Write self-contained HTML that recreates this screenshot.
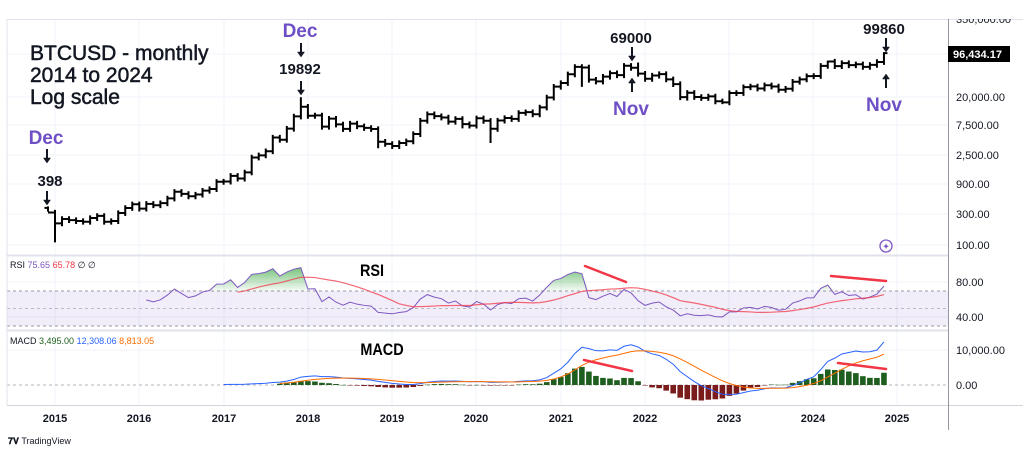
<!DOCTYPE html>
<html><head><meta charset="utf-8">
<style>
html,body{margin:0;padding:0;background:#fff;}
body{width:1023px;height:454px;overflow:hidden;position:relative;font-family:"Liberation Sans",sans-serif;}
svg{position:absolute;left:0;top:0;}
.ax{font-size:11px;fill:#131722;}
</style></head><body>
<svg id="s" width="1023" height="454" xmlns="http://www.w3.org/2000/svg">
<defs>
<clipPath id="cp"><rect x="7" y="19" width="941" height="236"/></clipPath>
<clipPath id="cr"><rect x="7" y="255" width="941" height="75"/></clipPath>
<clipPath id="cm"><rect x="7" y="330" width="941" height="75"/></clipPath>
<clipPath id="cax"><rect x="948" y="19" width="75" height="236"/></clipPath>
<linearGradient id="gg" x1="0" y1="0" x2="0" y2="1"><stop offset="0" stop-color="#4caf50" stop-opacity="0.75"/><stop offset="1" stop-color="#4caf50" stop-opacity="0.05"/></linearGradient>
</defs>
<g id="grid"></g>
<rect x="7" y="291" width="941" height="35" fill="#7e57c2" fill-opacity="0.1"/>
<line x1="7" x2="948" y1="291" y2="291" stroke="#9598a1" stroke-dasharray="3,3" stroke-width="1"/>
<line x1="7" x2="948" y1="308.5" y2="308.5" stroke="#9598a1" stroke-dasharray="3,3" stroke-width="1" opacity="0.6"/>
<line x1="7" x2="948" y1="326" y2="326" stroke="#9598a1" stroke-dasharray="3,3" stroke-width="1"/>
<line x1="7" x2="948" y1="385" y2="385" stroke="#9598a1" stroke-dasharray="3,3" stroke-width="1" opacity="0.7"/>
<g id="price" clip-path="url(#cp)"></g>
<g id="rsi" clip-path="url(#cr)"></g>
<g id="macd" clip-path="url(#cm)"></g>
<line x1="7" x2="1023" y1="19.5" y2="19.5" stroke="#e0e3eb"/>
<line x1="7" x2="948" y1="255.5" y2="255.5" stroke="#e0e3eb" stroke-width="2"/>
<line x1="7" x2="948" y1="330.5" y2="330.5" stroke="#e0e3eb" stroke-width="2"/>
<line x1="7" x2="1023" y1="405.5" y2="405.5" stroke="#d1d4dc"/>
<line x1="948.5" x2="948.5" y1="19" y2="430" stroke="#9598a1"/>
<line x1="7" x2="7" y1="19" y2="405" stroke="#e0e3eb"/>
<g class="ax">
<text x="956" y="23" clip-path="url(#cax)">350,000.00</text>
<text x="956" y="101">20,000.00</text>
<text x="956" y="129">7,500.00</text>
<text x="956" y="159">2,500.00</text>
<text x="956" y="188">900.00</text>
<text x="956" y="218">300.00</text>
<text x="956" y="249">100.00</text>
<text x="956" y="286">80.00</text>
<text x="956" y="321">40.00</text>
<text x="956" y="354">10,000.00</text>
<text x="956" y="389">0.00</text>
</g>
<rect x="948" y="46" width="62" height="16" fill="#000"/>
<text x="953" y="58" font-size="11" font-weight="bold" fill="#fff">96,434.17</text>
<g font-size="11" font-weight="bold" fill="#131722" text-anchor="middle">
<text x="55" y="422">2015</text><text x="139" y="422">2016</text><text x="224" y="422">2017</text><text x="308" y="422">2018</text><text x="392" y="422">2019</text><text x="476" y="422">2020</text><text x="561" y="422">2021</text><text x="645" y="422">2022</text><text x="729" y="422">2023</text><text x="813" y="422">2024</text><text x="897" y="422">2025</text>
</g>
<text x="10" y="268" font-size="9" fill="#131722">RSI <tspan fill="#7e57c2">75.65</tspan> <tspan fill="#f23645">65.78</tspan> ∅ ∅</text>
<text x="10" y="344" font-size="9" fill="#131722">MACD <tspan fill="#1e5e1e">3,495.00</tspan> <tspan fill="#2962ff">12,308.06</tspan> <tspan fill="#ff6d00">8,813.05</tspan></text>
<text x="372" y="276" font-size="17" font-weight="bold" text-anchor="middle" fill="#000" transform="translate(372,0) scale(0.85,1) translate(-372,0)">RSI</text>
<text x="382" y="355" font-size="17" font-weight="bold" text-anchor="middle" fill="#000" transform="translate(382,0) scale(0.85,1) translate(-382,0)">MACD</text>
<g stroke="#f23645" stroke-width="2.5" stroke-linecap="round">
<line x1="585" y1="266" x2="626" y2="282"/>
<line x1="831" y1="276" x2="886" y2="281"/>
<line x1="584" y1="360" x2="632" y2="371"/>
<line x1="838" y1="363" x2="886" y2="369"/>
</g>
<g>
<text x="30" y="60" font-size="21" fill="#131722" stroke="#131722" stroke-width="0.5">BTCUSD - monthly</text>
<text x="30" y="82" font-size="21" fill="#131722" stroke="#131722" stroke-width="0.5">2014 to 2024</text>
<text x="30" y="104" font-size="21" fill="#131722" stroke="#131722" stroke-width="0.5">Log scale</text>
<g fill="#6f4fc6" font-size="19" font-weight="bold" text-anchor="middle">
<text x="46" y="144">Dec</text><text x="300" y="37">Dec</text><text x="631" y="115">Nov</text><text x="884" y="111">Nov</text>
</g>
<g fill="#131722" font-size="15" font-weight="bold" text-anchor="middle">
<text x="50" y="186">398</text><text x="300" y="74">19892</text><text x="631" y="43">69000</text><text x="884" y="34">99860</text>
</g>
<g id="arrows" fill="#131722" stroke="#131722"></g>
</g>
<circle cx="886" cy="246" r="6" fill="none" stroke="#7e57c2" stroke-width="1.3"/>
<text x="886" y="249.5" font-size="9" fill="#7e57c2" text-anchor="middle">✦</text>
<text x="8" y="444" font-size="9" fill="#131722"><tspan font-weight="bold">𝟕𝐕</tspan> TradingView</text>
</svg>
<script>
var C=[320,217,254,244,236,230,263,284,230,236,314,377,430,
368,437,416,448,531,673,624,573,609,700,742,963,
970,1190,1080,1348,2300,2480,2875,4700,4340,6450,10000,14150,
10220,10380,6930,9240,7500,6390,7730,7030,6630,6370,4040,3740,
3460,3850,4100,5320,8570,10820,10080,9630,8290,9150,7570,7190,
9350,8540,6420,8620,9450,9140,11350,11650,10780,13800,19700,28990,
33100,45200,58800,57700,37300,35000,41500,47100,43800,61300,57000,46200,
38500,43200,45500,37700,31800,19900,23300,20050,19400,20500,17200,16550,
23100,23150,28500,29250,27200,30470,29230,25940,26970,34650,37720,42280,
42580,61130,71330,60640,67490,62680,64620,58970,63330,70220,96434];
var OV={0:[378,398,330],1:[null,null,110],36:[null,19892,null],63:[null,null,3850],59:[null,null,6500],47:[null,null,3200],84:[null,69000,null],91:[null,null,17600],96:[null,null,15500],111:[null,73800,null],119:[null,99860,null],76:[null,null,28800]};
var NS="http://www.w3.org/2000/svg";
function el(p,t,a){var e=document.createElementNS(NS,t);for(var k in a)e.setAttribute(k,a[k]);p.appendChild(e);return e;}
function X(i){return 55+(i-1)*7.025;}
function Y(v){return 245-64.3*(Math.log10(v)-2);}
var ar=document.getElementById('arrows');
function arrow(x,y1,y2){var dn=y2>y1,h=dn?-5:5;
 el(ar,'line',{x1:x,y1:y1,x2:x,y2:y2-(dn?3:-3),'stroke-width':2});
 el(ar,'path',{d:'M'+(x-3.5)+' '+(y2+h)+'L'+(x+3.5)+' '+(y2+h)+'L'+x+' '+y2+'Z','stroke-width':0.5});}
arrow(47,149,163);arrow(47,191,205);arrow(301,43,57);arrow(301,81,95);
arrow(632,47,61);arrow(632,92,78);arrow(886,38,52);arrow(886,88,74);
var g=document.getElementById('grid');
[55,139,224,308,392,476,561,645,729,813,897].forEach(function(x){el(g,'line',{x1:x,x2:x,y1:19,y2:405,stroke:'#f0f3fa'});});
[19.5,54,97,125,155,184,214,245,282,317,350].forEach(function(y){el(g,'line',{x1:7,x2:948,y1:y,y2:y,stroke:'#f0f3fa'});});
var pg=document.getElementById('price'),d='';
for(var i=0;i<C.length;i++){
 var o=i?C[i-1]:378,c=C[i];var h=Math.max(o,c)*1.1,l=Math.min(o,c)*0.9;
 var ov=OV[i];if(ov){if(ov[0])o=ov[0];if(ov[1])h=ov[1];if(ov[2])l=ov[2];}
 var x=X(i);
 d+='M'+x+' '+Y(h)+'V'+Y(l)+'M'+(x-3.5)+' '+Y(o)+'H'+x+'M'+x+' '+Y(c)+'H'+(x+3.5);
}
el(pg,'path',{d:d,stroke:'#000','stroke-width':2,fill:'none'});
var n=C.length,rsi=[],ag=0,al=0;
for(var i=1;i<n;i++){var ch=C[i]-C[i-1],gn=Math.max(ch,0),ls=Math.max(-ch,0);
 if(i<=14){ag+=gn/14;al+=ls/14;}else{ag=(ag*13+gn)/14;al=(al*13+ls)/14;}
 if(i>=14)rsi[i]=al==0?100:100-100/(1+ag/al);}
function RY(v){return 291-(v-70)*0.875;}
var rg=document.getElementById('rsi');
var pts=[];for(var i=14;i<n;i++)pts.push([X(i),RY(rsi[i])]);
var poly='M'+pts[0][0]+' '+RY(70);pts.forEach(function(p){poly+='L'+p[0]+' '+Math.min(p[1],RY(70));});poly+='L'+pts[pts.length-1][0]+' '+RY(70)+'Z';
el(rg,'path',{d:poly,fill:'url(#gg)'});
el(rg,'path',{d:'M'+pts.map(function(p){return p.join(' ');}).join('L'),stroke:'#7e57c2','stroke-width':1,fill:'none'});
var ma=[];for(var i=27;i<n;i++){var s=0;for(var j=0;j<14;j++)s+=rsi[i-j];ma.push([X(i),RY(s/14)]);}
el(rg,'path',{d:'M'+ma.map(function(p){return p.join(' ');}).join('L'),stroke:'#f23645','stroke-opacity':0.75,'stroke-width':1.2,fill:'none'});
var e12=C[0],e26=C[0],m=[],sg=[],k12=2/13,k26=2/27,k9=0.2,sv=null;
for(var i=0;i<n;i++){e12=C[i]*k12+e12*(1-k12);e26=C[i]*k26+e26*(1-k26);m[i]=e12-e26;
 if(i>=25){if(sv===null)sv=m[i];else sv=m[i]*k9+sv*(1-k9);sg[i]=sv;}}
function MY(v){return 385-v*0.0035;}
var mg=document.getElementById('macd');
for(var i=33;i<n;i++){var hv=m[i]-sg[i];var y0=MY(0),y1=MY(hv);
 el(mg,'rect',{x:X(i)-2.8,y:Math.min(y0,y1),width:5.6,height:Math.max(Math.abs(y1-y0),0.5),fill:hv>=0?'#1e5e1e':'#7b1c1c'});}
var mp='',sp='';for(var i=25;i<n;i++){mp+=(i==25?'M':'L')+X(i)+' '+MY(m[i]);}
for(var i=33;i<n;i++){sp+=(i==33?'M':'L')+X(i)+' '+MY(sg[i]);}
el(mg,'path',{d:mp,stroke:'#2962ff','stroke-width':1,fill:'none'});
el(mg,'path',{d:sp,stroke:'#ff6d00','stroke-width':1,fill:'none'});
</script>
</body></html>
